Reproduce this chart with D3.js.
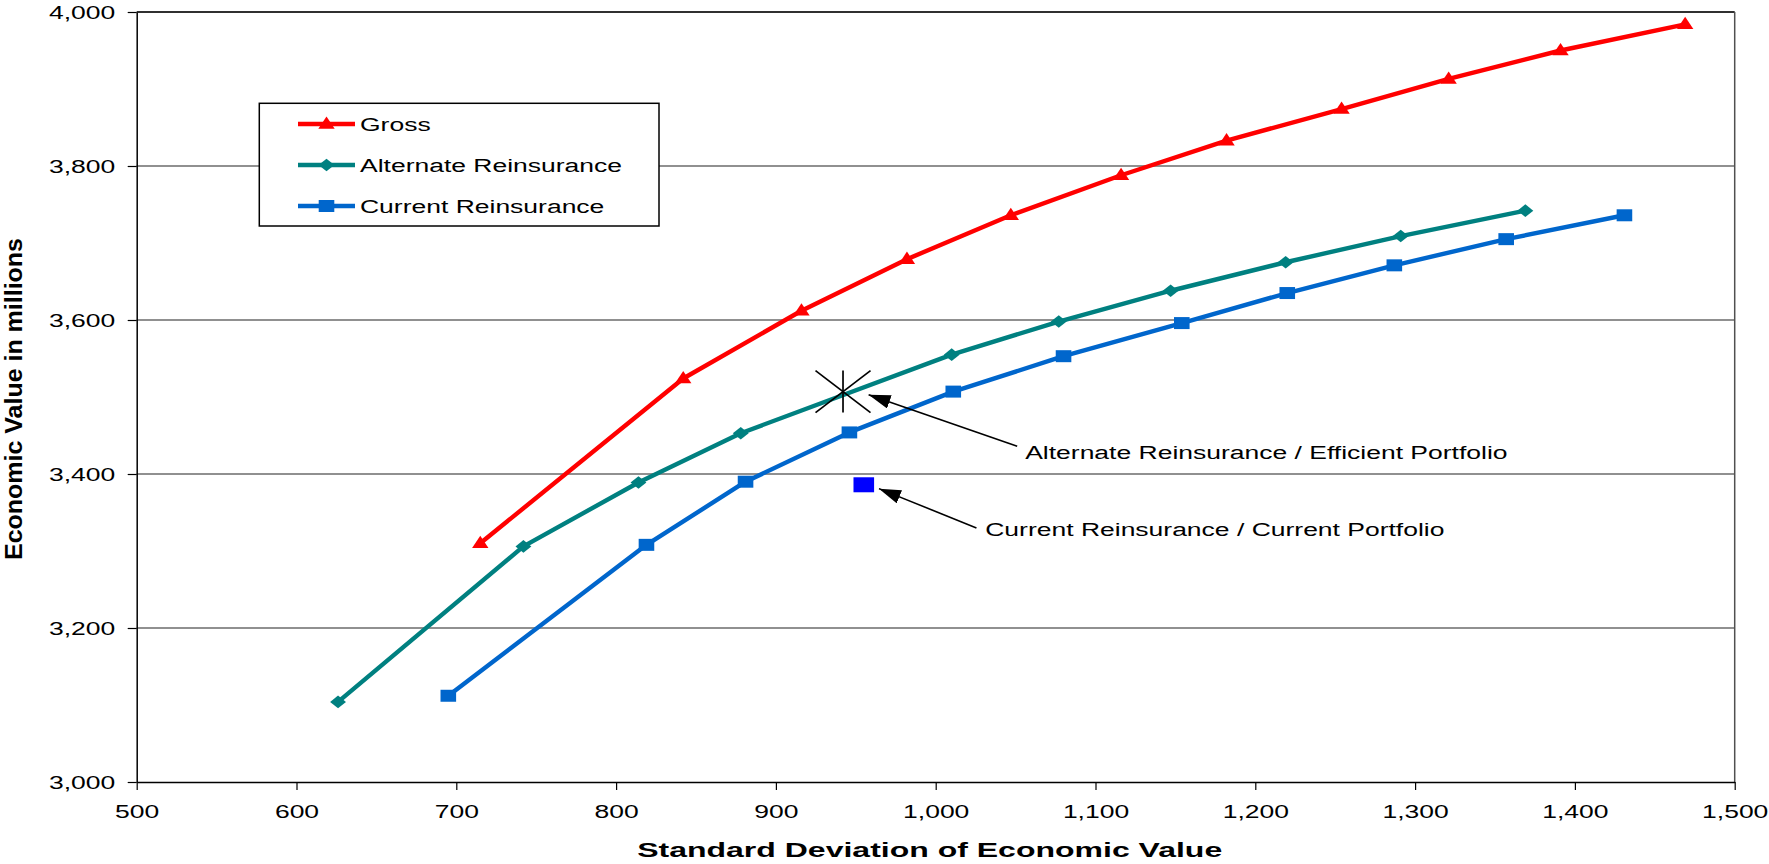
<!DOCTYPE html>
<html><head><meta charset="utf-8">
<script src="https://cdn.jsdelivr.net/npm/d3@7"></script>
<style>body{margin:0;background:#fff} svg{display:block} text{font-family:"Liberation Sans",Arial,sans-serif;fill:#000}</style>
</head><body><svg id="c" width="1769" height="864"></svg>
<script>
// ---- data ----
const seriesNames = ["Gross", "Alternate Reinsurance", "Current Reinsurance"];
const seriesColors = ["#FF0000", "#008080", "#0066CC"];
const seriesShapes = ["triangle", "diamond", "square"];
const grossX = [715, 842, 916, 982, 1047, 1116, 1182, 1254, 1321, 1391, 1469];
const grossY = [3310, 3524, 3612, 3679, 3736, 3788, 3833, 3874, 3913, 3950, 3984];
const altX = [626, 742, 814, 878, 1010, 1077, 1147, 1219, 1291, 1369];
const altY = [3104, 3306, 3389, 3453, 3555, 3598, 3638, 3675, 3709, 3742];
const curX = [695, 819, 881, 946, 1011, 1080, 1154, 1220, 1287, 1357, 1431];
const curY = [3112, 3308, 3390, 3454, 3507, 3553, 3596, 3635, 3671, 3705, 3736];
const efficientPoint = [942, 3507];
const currentPoint = [955, 3386];
const annLabels = ["Alternate Reinsurance / Efficient Portfolio", "Current Reinsurance / Current Portfolio"];
const annTextAt = [[1056, 3419], [1031, 3319]];
const annArrowFrom = [[1051, 3436], [1025.5, 3330]];
const annArrowTo = [[958, 3503], [964.5, 3381]];
const xTicks = [500, 600, 700, 800, 900, 1000, 1100, 1200, 1300, 1400, 1500];
const yTicks = [3000, 3200, 3400, 3600, 3800, 4000];
const xTitle = "Standard Deviation of Economic Value";
const yTitle = "Economic Value in millions";

// ---- layout ----
const L = 136.7, R = 1734.7, T = 12, B = 782;
const SX = 1.3; // horizontal stretch of markers
const TS = 1.41; // horizontal stretch of text
const svg = d3.select("#c");
const x = d3.scaleLinear().domain([500, 1500]).range([L, R]);
const y = d3.scaleLinear().domain([3000, 4000]).range([B, T]);
const fmt = d3.format(",");

function stretch(sel, k) {
  sel.each(function () {
    const w = this.getComputedTextLength();
    d3.select(this).attr("textLength", w * k).attr("lengthAdjust", "spacingAndGlyphs");
  });
}

// gridlines
svg.append("g").selectAll("line").data(yTicks.filter(v => v > 3000)).join("line")
  .attr("x1", L).attr("x2", R).attr("y1", d => y(d)).attr("y2", d => y(d))
  .attr("stroke", d => d === 4000 ? "#303030" : "#222")
  .attr("stroke-width", d => d === 4000 ? 2 : 1.1);
// right border
svg.append("line").attr("x1", R).attr("x2", R).attr("y1", T).attr("y2", B)
  .attr("stroke", "#505050").attr("stroke-width", 1.5);

// axes
const gy = svg.append("g").attr("transform", `translate(${L},0)`)
  .call(d3.axisLeft(y).tickValues(yTicks).tickFormat(fmt).tickSize(9).tickSizeOuter(0).tickPadding(12.5));
const gx = svg.append("g").attr("transform", `translate(0,${B})`)
  .call(d3.axisBottom(x).tickValues(xTicks).tickFormat(fmt).tickSize(8).tickSizeOuter(0).tickPadding(14.5));
[gy, gx].forEach(g => {
  g.select(".domain").attr("stroke", "#000").attr("stroke-width", 1.5);
  g.selectAll(".tick line").attr("stroke", "#000").attr("stroke-width", 1.2);
  g.selectAll(".tick text").attr("font-size", 18.8).attr("font-family", '"Liberation Sans",Arial,sans-serif').attr("fill", "#000");
  stretch(g.selectAll(".tick text"), TS);
});

// axis titles
svg.append("text").attr("x", (L + R) / 2 - 6).attr("y", 856.5).attr("text-anchor", "middle")
  .attr("font-size", 21).attr("font-weight", "bold").text(xTitle)
  .attr("textLength", 585).attr("lengthAdjust", "spacingAndGlyphs");
svg.append("text").attr("transform", `translate(22,${(T + B) / 2 + 2}) rotate(-90)`).attr("text-anchor", "middle")
  .attr("font-size", 24).attr("font-weight", "bold").text(yTitle)
  .attr("textLength", 322).attr("lengthAdjust", "spacingAndGlyphs");

// marker shapes
function shapePath(s) {
  if (s === "triangle") return "M0,-7.6 L6.3,4.8 L-6.3,4.8 Z";
  if (s === "diamond") return "M0,-6.3 L6.1,0 L0,6.3 L-6.1,0 Z";
  return "M-6,-6 L6,-6 L6,6 L-6,6 Z";
}

// series
const seriesData = [
  grossX.map((v, i) => [v, grossY[i]]),
  altX.map((v, i) => [v, altY[i]]),
  curX.map((v, i) => [v, curY[i]])
];
const line = d3.line().x(d => x(d[0])).y(d => y(d[1]));
[1, 2, 0].forEach(k => {
  const g = svg.append("g");
  g.append("path").datum(seriesData[k]).attr("d", line).attr("fill", "none")
    .attr("stroke", seriesColors[k]).attr("stroke-width", 4.4).attr("stroke-linejoin", "round");
  g.selectAll("path.m").data(seriesData[k]).join("path").attr("class", "m")
    .attr("d", shapePath(seriesShapes[k]))
    .attr("transform", d => `translate(${x(d[0])},${y(d[1])}) scale(${SX},1)`)
    .attr("fill", seriesColors[k]);
});

// efficient portfolio star (X with vertical bar)
const st = svg.append("g").attr("transform", `translate(${x(efficientPoint[0])},${y(efficientPoint[1])})`)
  .attr("stroke", "#000").attr("stroke-width", 1.7);
st.append("line").attr("x1", -27.5).attr("y1", -21).attr("x2", 27.5).attr("y2", 21);
st.append("line").attr("x1", -27.5).attr("y1", 21).attr("x2", 27.5).attr("y2", -21);
st.append("line").attr("x1", 0).attr("y1", -21).attr("x2", 0).attr("y2", 21);

// current portfolio square
svg.append("rect").attr("x", x(currentPoint[0]) - 10.3).attr("y", y(currentPoint[1]) - 7.5)
  .attr("width", 20.6).attr("height", 15).attr("fill", "#0000FF");

// annotations
svg.append("defs").append("marker").attr("id", "ah").attr("markerUnits", "userSpaceOnUse")
  .attr("viewBox", "0 0 22 14").attr("refX", 22).attr("refY", 7)
  .attr("markerWidth", 22).attr("markerHeight", 14).attr("orient", "auto")
  .append("path").attr("d", "M0,0 L22,7 L0,14 Z").attr("fill", "#000");
annLabels.forEach((t, i) => {
  svg.append("line").attr("x1", x(annArrowFrom[i][0])).attr("y1", y(annArrowFrom[i][1]))
    .attr("x2", x(annArrowTo[i][0])).attr("y2", y(annArrowTo[i][1]))
    .attr("stroke", "#000").attr("stroke-width", 1.6).attr("marker-end", "url(#ah)");
  const tx = svg.append("text").attr("x", x(annTextAt[i][0])).attr("y", y(annTextAt[i][1]))
    .attr("font-size", 18.8).text(t);
  stretch(tx, TS);
});

// legend
const lg = svg.append("g");
lg.append("rect").attr("x", 259.3).attr("y", 103.3).attr("width", 399.7).attr("height", 122.7)
  .attr("fill", "#fff").attr("stroke", "#000").attr("stroke-width", 1.5);
seriesNames.forEach((n, i) => {
  const yy = 124 + i * 41;
  lg.append("line").attr("x1", 298).attr("x2", 355).attr("y1", yy).attr("y2", yy)
    .attr("stroke", seriesColors[i]).attr("stroke-width", 4.4);
  lg.append("path").attr("d", shapePath(seriesShapes[i]))
    .attr("transform", `translate(326.5,${yy}) scale(${SX},1)`).attr("fill", seriesColors[i]);
  const tx = lg.append("text").attr("x", 360).attr("y", yy + 6.8).attr("font-size", 18.8).text(n);
  stretch(tx, TS);
});
</script></body></html>
